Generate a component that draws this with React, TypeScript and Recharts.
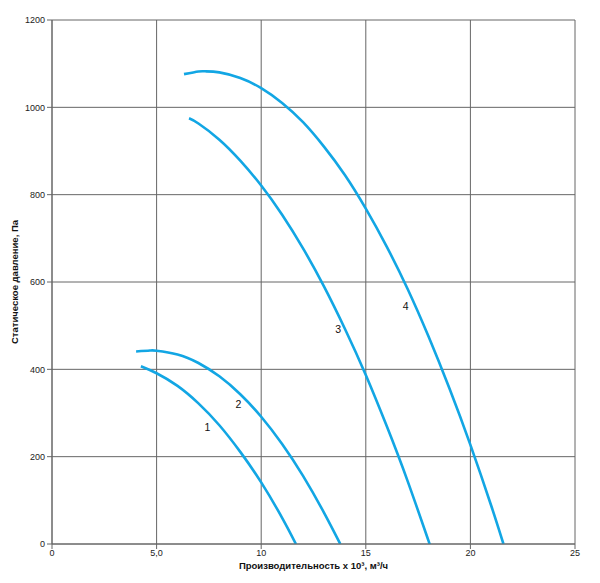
import React from "react";
import {
  LineChart,
  Line,
  XAxis,
  YAxis,
  CartesianGrid,
  ReferenceDot,
} from "recharts";

// Flow (x 10^3 m3/h) and static pressure (Pa) for each fan curve
const curve1 = [
  { x: 4.25, y: 407 },
  { x: 5, y: 391 },
  { x: 6, y: 362 },
  { x: 7, y: 322 },
  { x: 8, y: 272 },
  { x: 9, y: 211 },
  { x: 10, y: 141 },
  { x: 11, y: 60 },
  { x: 11.66, y: 0 },
];

const curve2 = [
  { x: 4.02, y: 441 },
  { x: 4.68, y: 443 },
  { x: 5, y: 442.6 },
  { x: 6, y: 434 },
  { x: 7, y: 414.5 },
  { x: 8, y: 384 },
  { x: 9, y: 343 },
  { x: 10, y: 291.5 },
  { x: 11, y: 229 },
  { x: 12, y: 156 },
  { x: 13, y: 72 },
  { x: 13.78, y: 0 },
];

const curve3 = [
  { x: 6.55, y: 975 },
  { x: 7, y: 963 },
  { x: 8, y: 926 },
  { x: 9, y: 878 },
  { x: 10, y: 821 },
  { x: 11, y: 754 },
  { x: 12, y: 677 },
  { x: 13, y: 590 },
  { x: 14, y: 493 },
  { x: 15, y: 387 },
  { x: 16, y: 270 },
  { x: 17, y: 144 },
  { x: 18, y: 7 },
  { x: 18.06, y: 0 },
];

const curve4 = [
  { x: 6.31, y: 1076 },
  { x: 7, y: 1082 },
  { x: 7.32, y: 1082.5 },
  { x: 8, y: 1080 },
  { x: 9, y: 1067 },
  { x: 10, y: 1044 },
  { x: 11, y: 1010 },
  { x: 12, y: 966 },
  { x: 13, y: 910 },
  { x: 14, y: 845 },
  { x: 15, y: 768 },
  { x: 16, y: 681 },
  { x: 17, y: 584 },
  { x: 18, y: 475 },
  { x: 19, y: 356 },
  { x: 20, y: 227 },
  { x: 21, y: 87 },
  { x: 21.58, y: 0 },
];

const curves = [curve1, curve2, curve3, curve4];

const curveLabels = [
  { name: "1", x: 7.43, y: 267 },
  { name: "2", x: 8.91, y: 320 },
  { name: "3", x: 13.68, y: 491 },
  { name: "4", x: 16.9, y: 544 },
];

const xTicks = [0, 5, 10, 15, 20, 25];
const xTickLabels = ["0", "5,0", "10", "15", "20", "25"];
const yTicks = [0, 200, 400, 600, 800, 1000, 1200];

const xTitle = "Производительность x 10³, м³/ч";
const yTitle = "Статическое давление, Па";

const LINE_COLOR = "#12a6e4";
const GRID_COLOR = "#666666";
const FONT = "Arial, 'Liberation Sans', Helvetica, sans-serif";

const YTitle = (props: any) => {
  const vb = props.viewBox || {};
  const cx = 15;
  const cy = (vb.y || 0) + (vb.height || 0) / 2;
  return (
    <text
      x={cx}
      y={cy}
      transform={`rotate(-90, ${cx}, ${cy})`}
      textAnchor="middle"
      dominantBaseline="middle"
      fontFamily={FONT}
      fontSize={9.5}
      fontWeight="bold"
      fill="#111"
    >
      {yTitle}
    </text>
  );
};

export default function App() {
  return (
    <div style={{ position: "absolute", left: 0, top: 0, background: "#fff" }}>
      <LineChart
        width={600}
        height={583}
        margin={{ top: 20, right: 25, bottom: 0, left: 0 }}
      >
        <CartesianGrid
          stroke={GRID_COLOR}
          strokeWidth={1}
          horizontalValues={yTicks}
          verticalValues={xTicks}
        />
        <XAxis
          type="number"
          dataKey="x"
          domain={[0, 25]}
          ticks={xTicks}
          tickFormatter={(v: number) => xTickLabels[xTicks.indexOf(v)] ?? String(v)}
          height={39}
          tickSize={5}
          tickMargin={1}
          stroke={GRID_COLOR}
          tick={{ fontSize: 9, fill: "#222", fontFamily: FONT }}
          allowDataOverflow
          label={{
            value: xTitle,
            position: "insideBottom",
            offset: 14,
            style: {
              fontSize: 9.5,
              fontWeight: "bold",
              fill: "#111",
              fontFamily: FONT,
            },
          }}
        />
        <YAxis
          type="number"
          dataKey="y"
          domain={[0, 1200]}
          ticks={yTicks}
          width={52}
          tickSize={5}
          tickMargin={2}
          stroke={GRID_COLOR}
          tick={{ fontSize: 9, fill: "#222", fontFamily: FONT }}
          allowDataOverflow
          label={{ content: YTitle }}
        />
        {curves.map((c, i) => (
          <Line
            key={i}
            data={c}
            dataKey="y"
            type="natural"
            stroke={LINE_COLOR}
            strokeWidth={2.6}
            dot={false}
            activeDot={false}
            isAnimationActive={false}
          />
        ))}
        {curveLabels.map((l) => (
          <ReferenceDot
            key={l.name}
            x={l.x}
            y={l.y}
            r={0}
            fill="none"
            stroke="none"
            label={{
              value: l.name,
              position: "center",
              style: { fontSize: 10.5, fill: "#111", fontFamily: FONT },
            }}
          />
        ))}
      </LineChart>
    </div>
  );
}
